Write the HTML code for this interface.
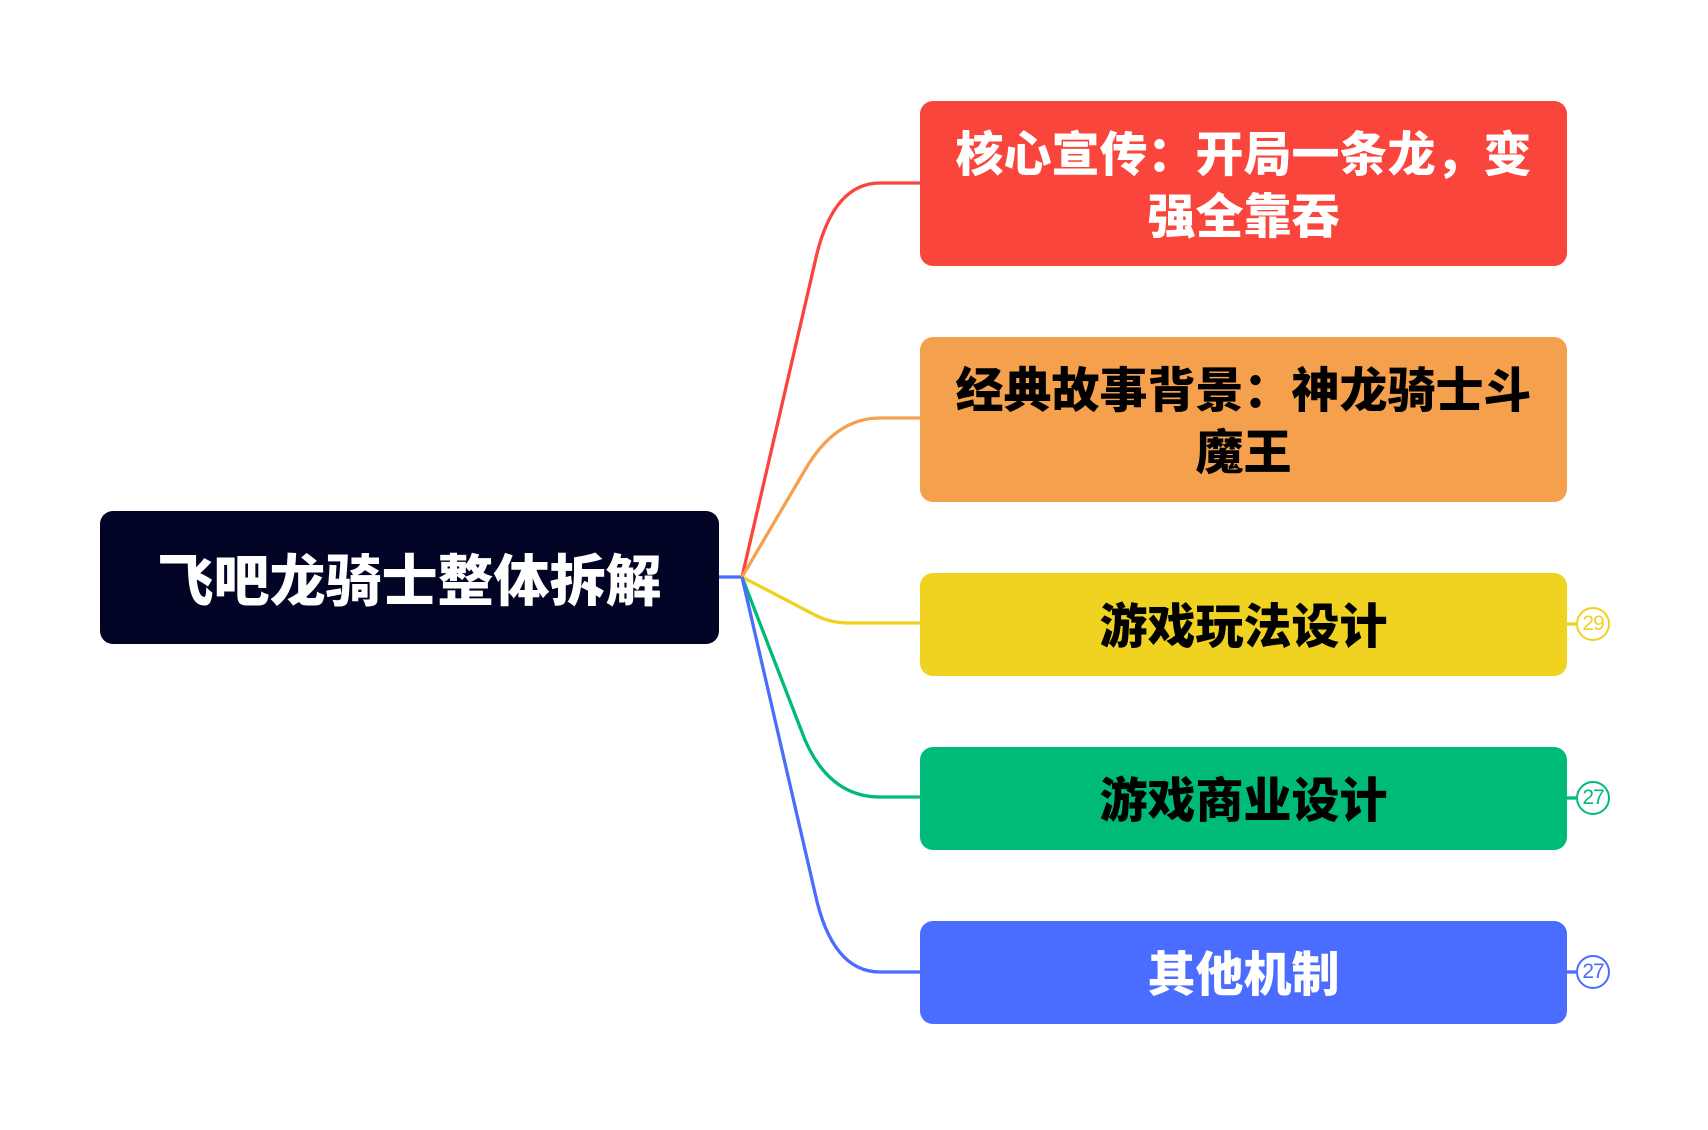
<!DOCTYPE html>
<html><head><meta charset="utf-8"><style>
body{margin:0;width:1708px;height:1130px;background:#fff;position:relative;overflow:hidden;font-family:"Liberation Sans","Noto Sans CJK SC",sans-serif;}
.b{position:absolute;left:920px;width:647px;border-radius:13px;display:flex;align-items:center;justify-content:center;text-align:center;font-weight:900;font-size:48px;line-height:62px;box-sizing:border-box;padding:6px 30px 0;}
.c{position:absolute;left:1576px;width:30px;height:30px;border:2px solid;border-radius:50%;background:#fff;font-size:21px;line-height:30px;text-align:center;box-sizing:content-box;letter-spacing:-1px}
</style></head><body>
<svg width="1708" height="1130" style="position:absolute;left:0;top:0" fill="none" stroke-width="3.3">
<line x1="719" y1="577" x2="742" y2="577" stroke="#4a6cff"/>
<path d="M742 577 L815 262 Q832 183 880 183 L920 183" stroke="#f9453c"/>
<path d="M742 577 L805 470 Q835 418 880 418 L920 418" stroke="#f5a04d"/>
<path d="M742 577 L815 615 Q830 623 850 623 L920 623" stroke="#f0d020"/>
<path d="M742 577 L805 740 Q830 797 880 797 L920 797" stroke="#00ba78"/>
<path d="M742 577 L815 893 Q832 972 880 972 L920 972" stroke="#4a6cff"/>
<line x1="1567" y1="624" x2="1576" y2="624" stroke="#f0d020"/>
<line x1="1567" y1="798" x2="1576" y2="798" stroke="#00ba78"/>
<line x1="1567" y1="972" x2="1576" y2="972" stroke="#4a6cff"/>
</svg>
<div class="b" style="left:100px;width:619px;top:511px;height:133px;background:#020426;color:#fff;font-size:56px;padding-top:8px">飞吧龙骑士整体拆解</div>
<div class="b" style="top:101px;height:165px;background:#f9453c;color:#fff">核心宣传：开局一条龙，变强全靠吞</div>
<div class="b" style="top:337px;height:165px;background:#f5a04d;color:#000">经典故事背景：神龙骑士斗魔王</div>
<div class="b" style="top:573px;height:103px;background:#f0d320;color:#000">游戏玩法设计</div>
<div class="b" style="top:747px;height:103px;background:#00bb78;color:#000">游戏商业设计</div>
<div class="b" style="top:921px;height:103px;background:#4a6cff;color:#fff">其他机制</div>
<div class="c" style="top:607px;border-color:#f0d020;color:#f0d020">29</div>
<div class="c" style="top:781px;border-color:#00ba78;color:#00ba78">27</div>
<div class="c" style="top:955px;border-color:#4a6cff;color:#4a6cff">27</div>
</body></html>
